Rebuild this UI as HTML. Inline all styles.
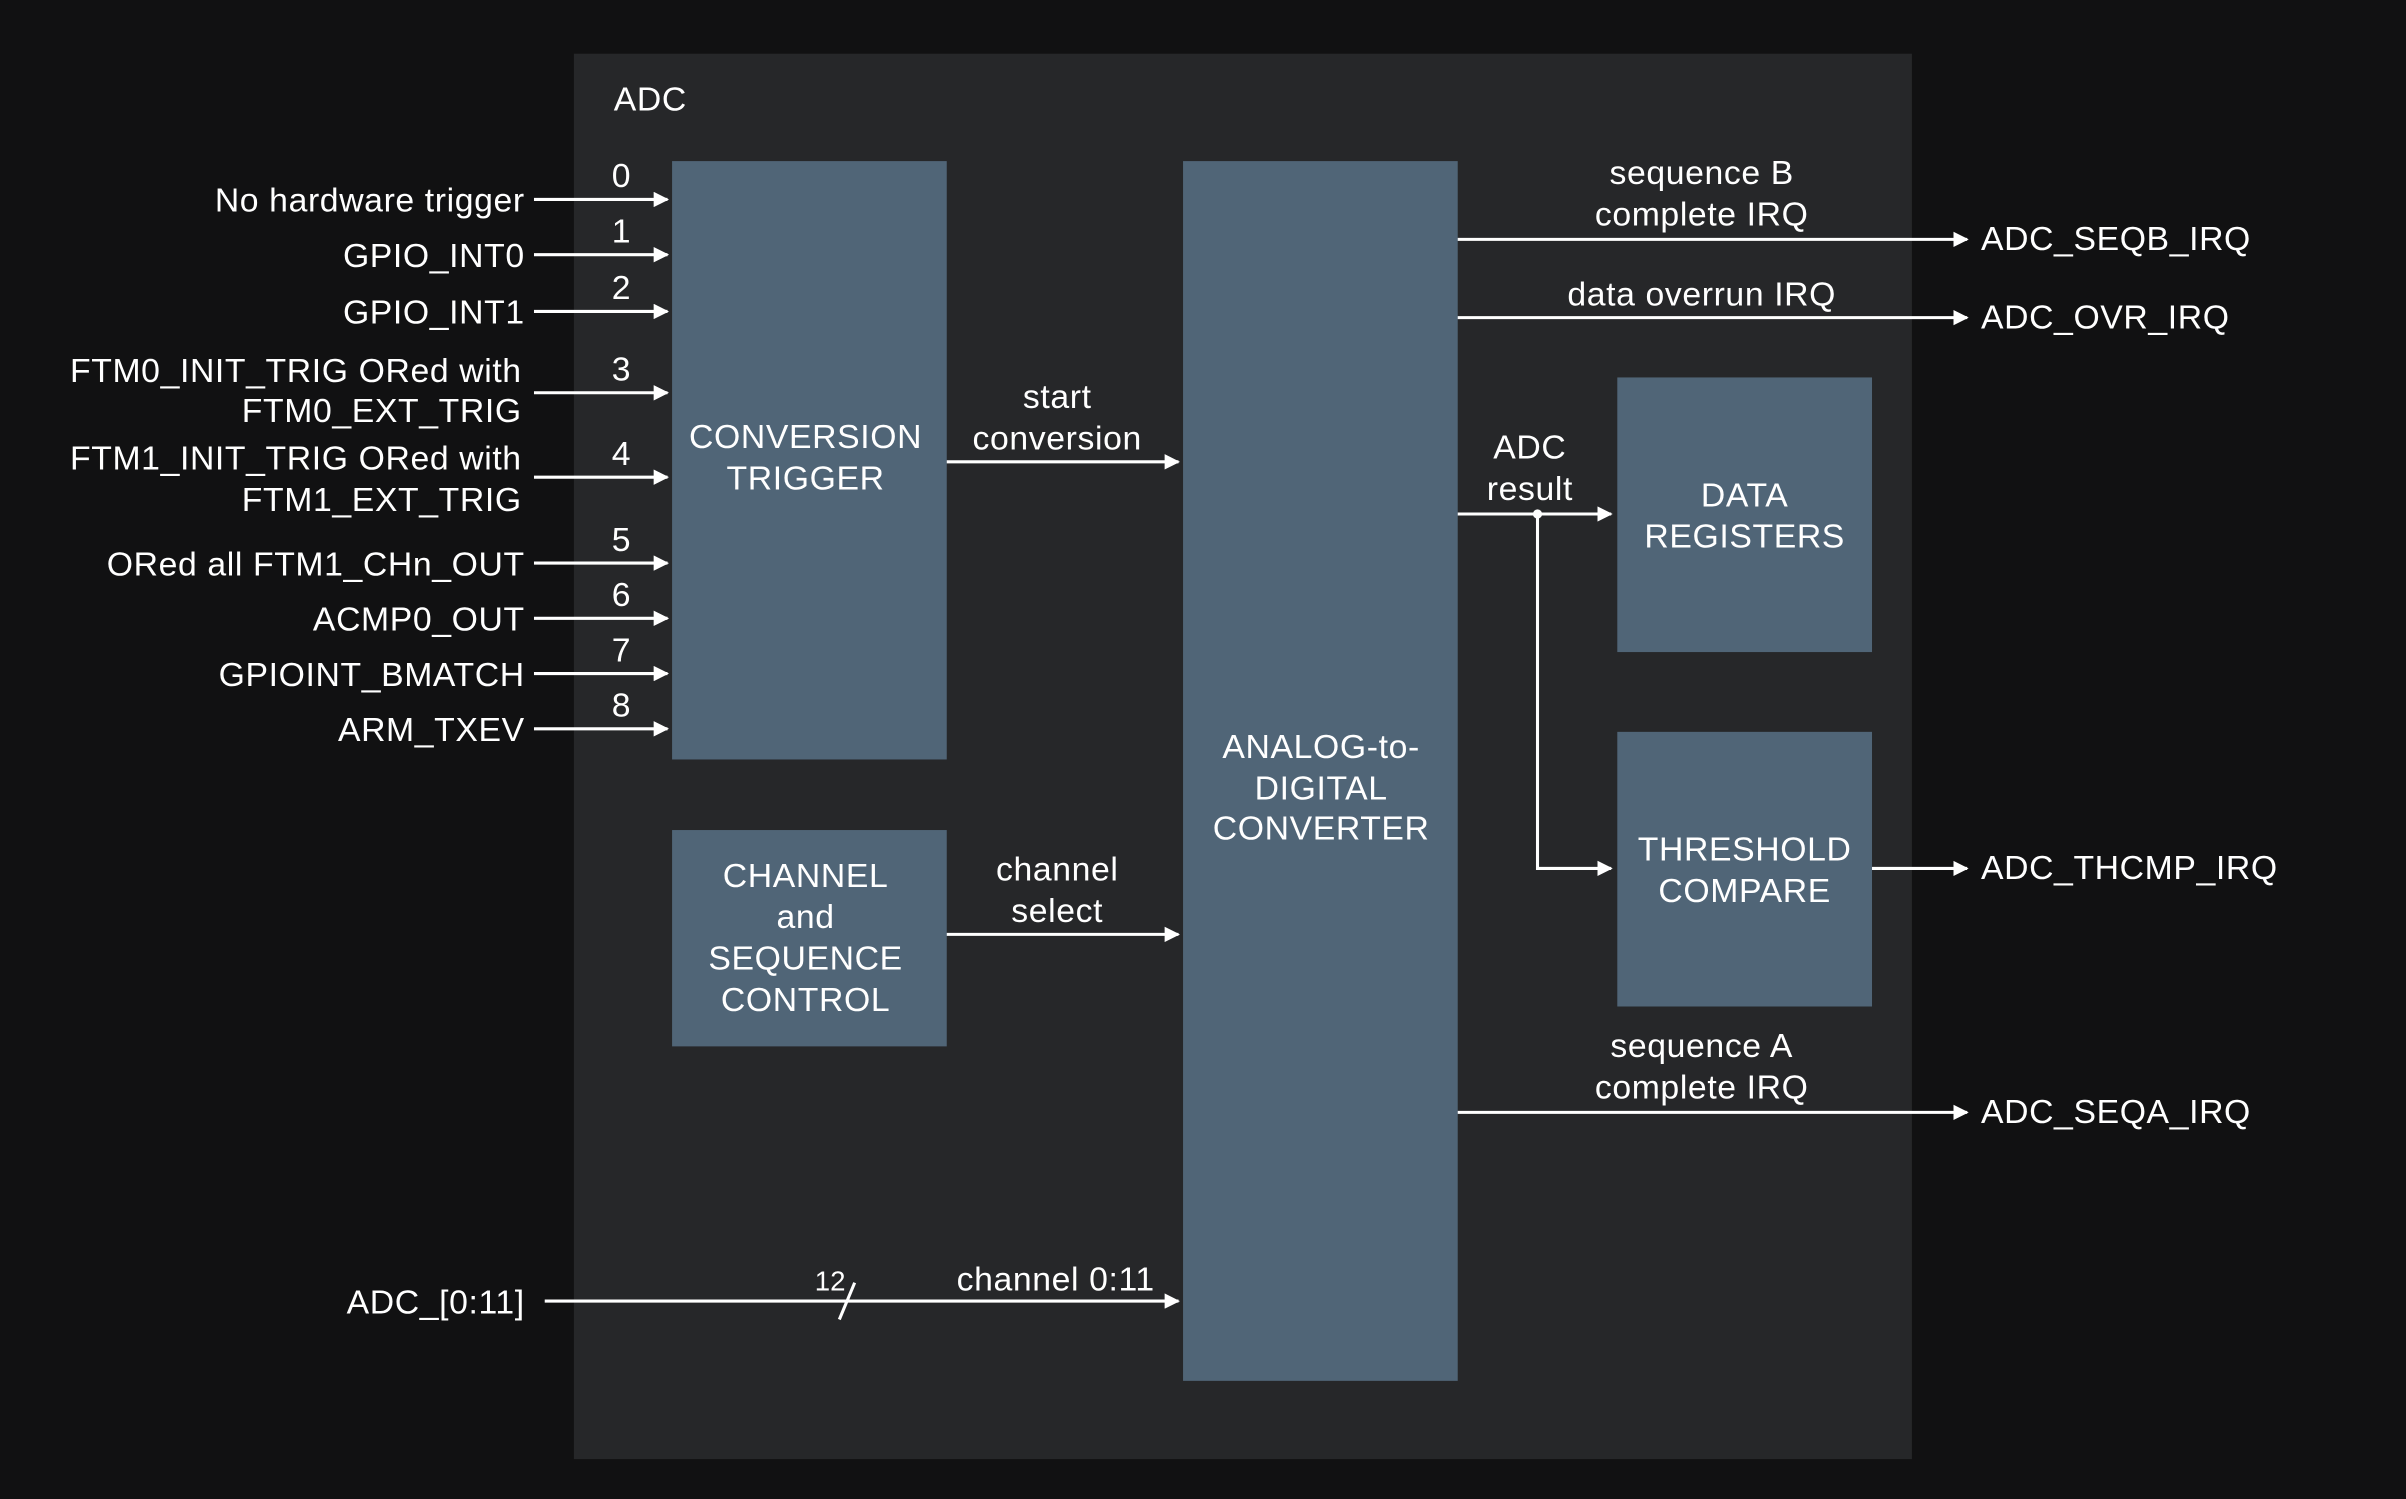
<!DOCTYPE html>
<html><head><meta charset="utf-8"><style>html,body{margin:0;padding:0;background:#111112;}svg{display:block}</style></head>
<body>
<svg width="2406" height="1499" viewBox="0 0 1568 977" preserveAspectRatio="none" xmlns="http://www.w3.org/2000/svg" font-family="Liberation Sans, sans-serif" font-size="22" letter-spacing="0.4" fill="#fff">
<defs><marker id="a" markerWidth="10" markerHeight="10" refX="9" refY="5" orient="auto" markerUnits="userSpaceOnUse"><path d="M0,0 L10,5 L0,10 z" fill="#fff"/></marker></defs>
<rect width="1568" height="977" fill="#111112"/>
<rect x="374" y="35" width="872" height="916" fill="#262729"/>
<text x="400" y="72">ADC</text>
<g fill="#506577">
<rect x="438" y="105" width="179" height="390"/>
<rect x="438" y="541" width="179" height="141"/>
<rect x="771" y="105" width="179" height="795"/>
<rect x="1054" y="246" width="166" height="179"/>
<rect x="1054" y="477" width="166" height="179"/>
</g>
<g stroke="#fff" stroke-width="2" fill="none">
<line x1="348" y1="130" x2="435" y2="130" marker-end="url(#a)"/>
<line x1="348" y1="166" x2="435" y2="166" marker-end="url(#a)"/>
<line x1="348" y1="203" x2="435" y2="203" marker-end="url(#a)"/>
<line x1="348" y1="256" x2="435" y2="256" marker-end="url(#a)"/>
<line x1="348" y1="311" x2="435" y2="311" marker-end="url(#a)"/>
<line x1="348" y1="367" x2="435" y2="367" marker-end="url(#a)"/>
<line x1="348" y1="403" x2="435" y2="403" marker-end="url(#a)"/>
<line x1="348" y1="439" x2="435" y2="439" marker-end="url(#a)"/>
<line x1="348" y1="475" x2="435" y2="475" marker-end="url(#a)"/>
<line x1="617" y1="301" x2="768" y2="301" marker-end="url(#a)"/>
<line x1="617" y1="609" x2="768" y2="609" marker-end="url(#a)"/>
<line x1="355" y1="848" x2="768" y2="848" marker-end="url(#a)"/>
<line x1="547" y1="860" x2="557" y2="836"/>
<line x1="950" y1="156" x2="1282" y2="156" marker-end="url(#a)"/>
<line x1="950" y1="207" x2="1282" y2="207" marker-end="url(#a)"/>
<line x1="950" y1="335" x2="1050" y2="335" marker-end="url(#a)"/>
<polyline points="1002,335 1002,566 1050,566" marker-end="url(#a)"/>
<line x1="1220" y1="566" x2="1282" y2="566" marker-end="url(#a)"/>
<line x1="950" y1="725" x2="1282" y2="725" marker-end="url(#a)"/>
</g>
<circle cx="1002" cy="335" r="3" fill="#fff"/>
<g text-anchor="end">
<text x="342" y="138">No hardware trigger</text>
<text x="342" y="174">GPIO_INT0</text>
<text x="342" y="211">GPIO_INT1</text>
<text x="340" y="249">FTM0_INIT_TRIG ORed with</text>
<text x="340" y="275">FTM0_EXT_TRIG</text>
<text x="340" y="306">FTM1_INIT_TRIG ORed with</text>
<text x="340" y="333">FTM1_EXT_TRIG</text>
<text x="342" y="375">ORed all FTM1_CHn_OUT</text>
<text x="342" y="411">ACMP0_OUT</text>
<text x="342" y="447">GPIOINT_BMATCH</text>
<text x="342" y="483">ARM_TXEV</text>
<text x="342" y="856">ADC_[0:11]</text>
</g>
<g text-anchor="middle">
<text x="405" y="122">0</text><text x="405" y="158">1</text><text x="405" y="195">2</text>
<text x="405" y="248">3</text><text x="405" y="303">4</text><text x="405" y="359">5</text>
<text x="405" y="395">6</text><text x="405" y="431">7</text><text x="405" y="467">8</text>
<text x="525" y="292">CONVERSION</text><text x="525" y="319">TRIGGER</text>
<text x="525" y="578">CHANNEL</text><text x="525" y="605">and</text>
<text x="525" y="632">SEQUENCE</text><text x="525" y="659">CONTROL</text>
<text x="689" y="266">start</text><text x="689" y="293">conversion</text>
<text x="689" y="574">channel</text><text x="689" y="601">select</text>
<text x="688" y="841">channel 0:11</text>
<text x="541" y="841" font-size="18" letter-spacing="0">12</text>
<text x="861" y="494">ANALOG-to-</text><text x="861" y="521">DIGITAL</text><text x="861" y="547">CONVERTER</text>
<text x="1109" y="120">sequence B</text><text x="1109" y="147">complete IRQ</text>
<text x="1109" y="199">data overrun IRQ</text>
<text x="997" y="299">ADC</text><text x="997" y="326">result</text>
<text x="1137" y="330">DATA</text><text x="1137" y="357">REGISTERS</text>
<text x="1137" y="561">THRESHOLD</text><text x="1137" y="588">COMPARE</text>
<text x="1109" y="689">sequence A</text><text x="1109" y="716">complete IRQ</text>
</g>
<text x="1291" y="163">ADC_SEQB_IRQ</text>
<text x="1291" y="214">ADC_OVR_IRQ</text>
<text x="1291" y="573">ADC_THCMP_IRQ</text>
<text x="1291" y="732">ADC_SEQA_IRQ</text>
</svg>
</body></html>
